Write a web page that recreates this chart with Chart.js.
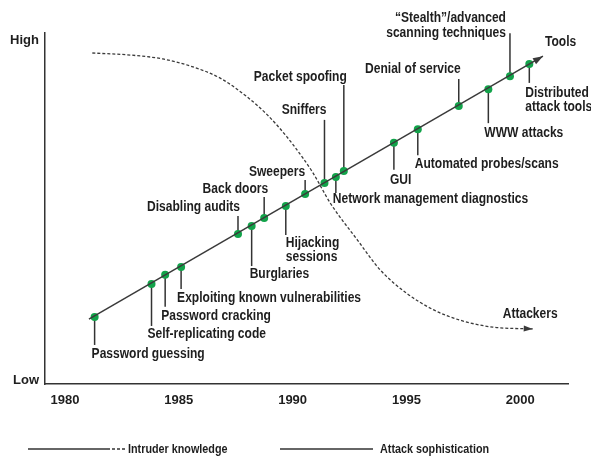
<!DOCTYPE html>
<html>
<head>
<meta charset="utf-8">
<script src="https://cdn.jsdelivr.net/npm/chart.js@4.4.0/dist/chart.umd.min.js"></script>
<style>
  html, body { margin: 0; padding: 0; background: #fff; }
</style>
</head>
<body>
<canvas id="trend" width="591" height="457"></canvas>
<script>
// ATTACK EVENTS ALONG THE TOOLS LINE
var events = [
  'Password guessing', 'Self-replicating code', 'Password cracking',
  'Exploiting known vulnerabilities', 'Disabling audits', 'Burglaries',
  'Back doors', 'Hijacking\nsessions', 'Sweepers', 'Sniffers',
  'Network management diagnostics', 'Packet spoofing', 'GUI',
  'Automated probes/scans', 'Denial of service', 'WWW attacks',
  '\u201cStealth\u201d/advanced\nscanning techniques', 'Distributed\nattack tools'
];
var eventYears = [1981.3, 1983.8, 1984.4, 1985.1, 1987.6, 1988.2, 1988.75, 1989.7, 1990.55,
  1991.4, 1991.9, 1992.25, 1994.45, 1995.5, 1997.3, 1998.6, 1999.55, 2000.4];
var eventLevels = [19.1, 28.5, 31.1, 33.3, 42.7, 45.0, 47.3, 50.7, 54.1,
  57.3, 59.0, 60.7, 68.7, 72.6, 79.2, 84.0, 87.7, 91.2];

// tools trend line (start, arrow tip)
var toolsYears = [1981.05, 2001.0];
var toolsLevels = [18.5, 93.4];

// intruder knowledge curve
var knowledgeYears = [1981.2, 1982.9, 1984.3, 1985.5, 1986.8, 1988.0, 1988.9, 1989.75, 1990.45,
  1990.9, 1991.65, 1992.85, 1993.85, 1995.0, 1996.2, 1997.35, 1998.8, 2000.55];
var knowledgeLevels = [94.3, 93.7, 92.6, 90.6, 87.2, 81.8, 76.6, 70.4, 64.4,
  60.1, 51.6, 41.0, 32.5, 25.9, 21.1, 18.2, 16.2, 15.7];

var yearTicks = [1980, 1985, 1990, 1995, 2000];
var levelTicks = [1, 98];
var levelLabels = ['Low', 'High'];

var seriesNames = ['Intruder knowledge', 'Attack sophistication'];
var endNames = ['Attackers', 'Tools'];

// label placement next to each event (pixels from the point)
var labelPlacement = [
  {lead: 28, dx: -3, dy: 37, align: 'left'},
  {lead: 42, dx: -4, dy: 50, align: 'left'},
  {lead: 32, dx: -4, dy: 41, align: 'left'},
  {lead: 22, dx: -4, dy: 31, align: 'left'},
  {lead: -18, dx: 2, dy: -27, align: 'right'},
  {lead: 40, dx: -2, dy: 48, align: 'left'},
  {lead: -21, dx: 4, dy: -29, align: 'right'},
  {lead: 29, dx: 0, dy: 37, align: 'left'},
  {lead: -14, dx: 0, dy: -22, align: 'right'},
  {lead: -63, dx: 2, dy: -73, align: 'right'},
  {lead: 16, dx: -3, dy: 22, align: 'left'},
  {lead: -86, dx: 3, dy: -94, align: 'right'},
  {lead: 27, dx: -4, dy: 37, align: 'left'},
  {lead: 26, dx: -3, dy: 35, align: 'left'},
  {lead: -27, dx: 2, dy: -37, align: 'right'},
  {lead: 34, dx: -4, dy: 44, align: 'left'},
  {lead: -43, dx: -4, dy: -58, align: 'right'},
  {lead: 19, dx: -4, dy: 29, align: 'left'}
];

var FAMILY = "'Liberation Sans', Arial, sans-serif";
var LABEL_FONT = 'bold 14px ' + FAMILY;
var LEGEND_FONT = 'bold 13px ' + FAMILY;
var NARROW = 0.86;   // squeeze to look like a condensed face
var INK = '#1e1e1e';
var LINE = '#3a3a3a';
var GREEN = '#12a34a';

function toXY(xs, ys) {
  return xs.map(function (x, i) { return {x: x, y: ys[i]}; });
}

// draw text squeezed horizontally
function narrowText(ctx, text, x, y, align, squeeze) {
  var sx = squeeze || NARROW;
  var w = ctx.measureText(text).width * sx;
  var left = align === 'right' ? x - w : (align === 'center' ? x - w / 2 : x);
  ctx.save();
  ctx.translate(left, y);
  ctx.scale(sx, 1);
  ctx.textAlign = 'left';
  ctx.fillText(text, 0, 0);
  ctx.restore();
}

function arrowHead(ctx, from, to, len, half) {
  var a = Math.atan2(to.y - from.y, to.x - from.x);
  ctx.save();
  ctx.translate(to.x, to.y);
  ctx.rotate(a);
  ctx.beginPath();
  ctx.moveTo(0, 0);
  ctx.lineTo(-len, -half);
  ctx.lineTo(-len, half);
  ctx.closePath();
  ctx.fillStyle = LINE;
  ctx.fill();
  ctx.restore();
}

var annotations = {
  id: 'annotations',
  beforeDatasetsDraw: function (chart) {
    var ctx = chart.ctx;
    var pts = chart.getDatasetMeta(2).data;
    ctx.save();
    ctx.strokeStyle = '#333';
    ctx.lineWidth = 1.5;
    pts.forEach(function (p, i) {
      var lp = labelPlacement[i];
      ctx.beginPath();
      ctx.moveTo(p.x, p.y);
      ctx.lineTo(p.x, p.y + lp.lead);
      ctx.stroke();
    });
    ctx.restore();
  },
  afterDatasetsDraw: function (chart) {
    var ctx = chart.ctx;
    var pts = chart.getDatasetMeta(2).data;
    ctx.save();
    ctx.font = LABEL_FONT;
    ctx.fillStyle = INK;
    ctx.textBaseline = 'middle';
    pts.forEach(function (p, i) {
      var lp = labelPlacement[i];
      events[i].split('\n').forEach(function (line, k) {
        narrowText(ctx, line, p.x + lp.dx, p.y + lp.dy + k * 14.5, lp.align);
      });
    });

    // arrowheads at the end of both trends
    var curve = chart.getDatasetMeta(0).data;
    var tools = chart.getDatasetMeta(1).data;
    arrowHead(ctx, curve[curve.length - 2], curve[curve.length - 1], 9, 3);
    arrowHead(ctx, tools[0], tools[tools.length - 1], 10, 3.5);

    var ce = curve[curve.length - 1];
    var te = tools[tools.length - 1];
    narrowText(ctx, endNames[0], ce.x - 30, ce.y - 15, 'left');
    narrowText(ctx, endNames[1], te.x + 2, te.y - 14, 'left');

    // legend strip at the bottom
    var ly = 449;
    ctx.strokeStyle = '#333';
    ctx.lineWidth = 1.3;
    ctx.beginPath();
    ctx.moveTo(28, ly); ctx.lineTo(107, ly);
    ctx.stroke();
    ctx.setLineDash([3, 2]);
    ctx.beginPath();
    ctx.moveTo(107, ly); ctx.lineTo(125, ly);
    ctx.stroke();
    ctx.setLineDash([]);
    ctx.beginPath();
    ctx.moveTo(280, ly); ctx.lineTo(373, ly);
    ctx.stroke();
    ctx.font = LEGEND_FONT;
    narrowText(ctx, seriesNames[0], 128, ly, 'left', 0.83);
    narrowText(ctx, seriesNames[1], 380, ly, 'left', 0.83);
    ctx.restore();
  }
};

var ctx = document.getElementById('trend').getContext('2d');
var chart = new Chart(ctx, {
  type: 'scatter',
  data: {
    datasets: [{
      label: seriesNames[0],
      data: toXY(knowledgeYears, knowledgeLevels),
      showLine: true,
      borderColor: LINE,
      borderWidth: 1.3,
      borderDash: [3, 2],
      cubicInterpolationMode: 'monotone',
      pointRadius: 0,
      clip: false
    }, {
      label: seriesNames[1],
      data: toXY(toolsYears, toolsLevels),
      showLine: true,
      borderColor: LINE,
      borderWidth: 1.5,
      pointRadius: 0,
      clip: false
    }, {
      label: 'Events',
      data: toXY(eventYears, eventLevels),
      showLine: false,
      pointRadius: 4,
      pointBackgroundColor: GREEN,
      pointBorderColor: GREEN,
      pointBorderWidth: 0,
      clip: false
    }]
  },
  options: {
    responsive: false,
    animation: false,
    events: [],
    layout: {
      padding: {top: 33, right: 23, bottom: 0, left: 0}
    },
    plugins: {
      legend: {display: false},
      tooltip: {enabled: false}
    },
    scales: {
      x: {
        type: 'linear',
        min: 1979.12,
        max: 2002.1,
        afterBuildTicks: function (axis) {
          axis.ticks = yearTicks.map(function (v) { return {value: v}; });
        },
        afterFit: function (axis) { axis.height = 73; },
        grid: {display: false, drawTicks: false},
        border: {display: true, color: '#333', width: 1.5},
        ticks: {
          padding: 9,
          color: INK,
          font: {family: FAMILY, size: 13, weight: 'bold'},
          callback: function (v) { return String(v); }
        }
      },
      y: {
        type: 'linear',
        min: 0,
        max: 100,
        afterBuildTicks: function (axis) {
          axis.ticks = levelTicks.map(function (v) { return {value: v}; });
        },
        afterFit: function (axis) { axis.width = 45; },
        grid: {display: false, drawTicks: false},
        border: {display: true, color: '#333', width: 1.5},
        ticks: {
          padding: 6,
          color: INK,
          font: {family: FAMILY, size: 13, weight: 'bold'},
          callback: function (v) { return levelLabels[levelTicks.indexOf(v)]; }
        }
      }
    }
  },
  plugins: [annotations]
});
</script>
</body>
</html>
